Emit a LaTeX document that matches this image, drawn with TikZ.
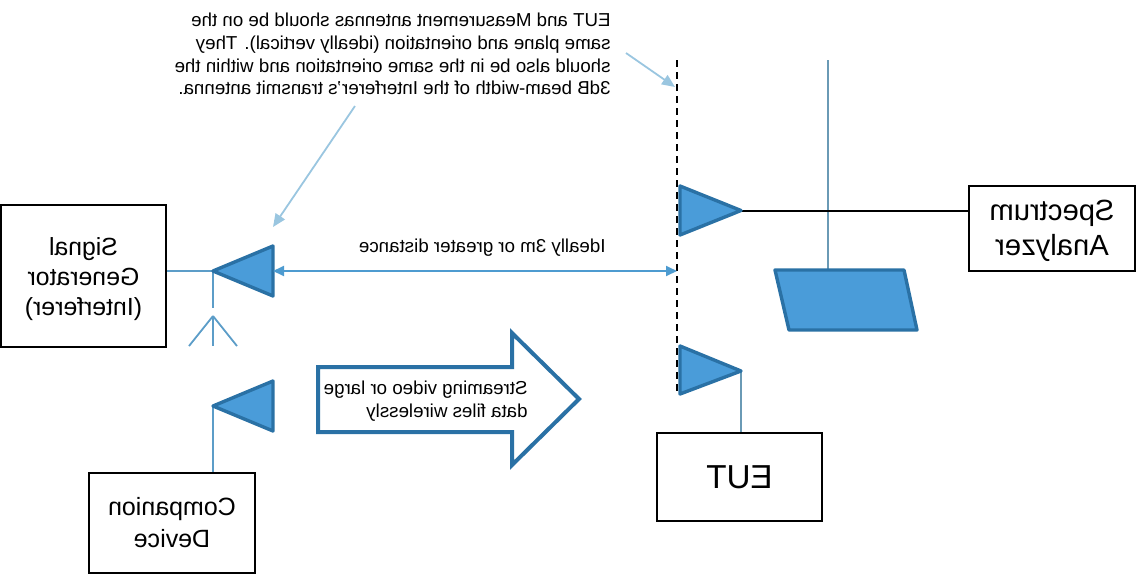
\documentclass[tikz,border=0pt]{standalone}
\usepackage{fontspec}
\usepackage{xcolor}
\setmainfont{Liberation Sans}
\usetikzlibrary{arrows.meta}
\definecolor{antfill}{HTML}{4A9CD9}
\definecolor{antline}{HTML}{2A71A5}
\definecolor{feedline}{HTML}{5C9DC8}
\definecolor{mastline}{HTML}{6A9AB5}
\definecolor{noteline}{HTML}{9AC6E0}
\definecolor{rangeline}{HTML}{4D9BD0}
\begin{document}
\begin{tikzpicture}[x=0.5pt,y=-0.5pt,
  mirrored/.style={xscale=-1,transform shape},
  devbox/.style={mirrored,draw=black,line width=1pt,align=center,inner sep=0pt},
  label/.style={mirrored,align=left,inner sep=0pt},
  antenna/.style={draw=antline,fill=antfill,line width=1.7pt,line join=round},
  feed/.style={draw=feedline,line width=0.9pt},
  note/.style={draw=noteline,line width=0.9pt,-{Triangle[length=6.5pt,width=5.5pt]}}]
\useasboundingbox (0,0) rectangle (1136,574);
\node[devbox,minimum width=82.5pt,minimum height=71pt,font=\fontsize{12.4}{15}\selectfont] (siggen) at (83.5,276) {\rule{0pt}{12pt}Signal\\Generator\\(Interferer)};
\node[devbox,minimum width=83pt,minimum height=50pt,font=\fontsize{12.5}{16}\selectfont] (companion) at (172,523) {Companion\\Device};
\node[devbox,minimum width=82.5pt,minimum height=44pt,font=\fontsize{16.6}{19}\selectfont] (eut) at (739.5,477) {EUT};
\node[devbox,minimum width=83pt,minimum height=42.5pt,font=\fontsize{14.6}{17.5}\selectfont] (analyzer) at (1052,228.5) {\rule{0pt}{12.6pt}Spectrum\\Analyzer};
\coordinate (txtip) at (213,271);
\coordinate (comptip) at (213,406);
\coordinate (rxtip) at (741,210.5);
\coordinate (euttip) at (741,371);
\coordinate (txface) at (273,271);
\coordinate (planetop) at (677,60);
\coordinate (planebot) at (677,392);
\coordinate (planemid) at (677,271);
\coordinate (masttop) at (828,60);
\coordinate (mastbot) at (828,270);
\coordinate (gndtop) at (213,316);
\draw[line width=1pt,dash pattern=on 3.5pt off 2.5pt] (planetop) -- (planebot);
\draw[feed] (siggen.west |- txtip) -- (txtip);
\draw[feed] (txtip) -- (213,308);
\draw[feed] (gndtop) -- (213,346);
\draw[feed] (gndtop) -- (189,346);
\draw[feed] (gndtop) -- (237,346);
\draw[feed] (comptip) -- (comptip |- companion.north);
\draw[draw=mastline,line width=0.9pt] (euttip) -- (euttip |- eut.north);
\draw[draw=mastline,line width=0.9pt] (masttop) -- (mastbot);
\draw[line width=1pt] (rxtip) -- (analyzer.east |- rxtip);
\draw[antenna] (txtip) -- (273,246) -- (273,296) -- cycle;
\draw[antenna] (comptip) -- (273,381) -- (273,431) -- cycle;
\draw[antenna] (rxtip) -- (680,186) -- (680,235) -- cycle;
\draw[antenna] (euttip) -- (680,346) -- (680,394) -- cycle;
\draw[antenna] (775,270) -- (904,270) -- (917,330) -- (789,330) -- cycle;
\draw[draw=antline,fill=white,line width=2pt,miter limit=10] (318,367) -- (512,367) -- (512,333) -- (579,399) -- (512,465) -- (512,432) -- (318,432) -- cycle;
\node[label,font=\fontsize{9.36}{11.3}\selectfont,anchor=north west] (notetext) at (611,13) {EUT and Measurement antennas should be on the\\same plane and orientation (ideally vertical). They\\should also be in the same orientation and within the\\3dB beam-width of the Interferer's transmit antenna.};
\node[label,font=\fontsize{9.36}{11}\selectfont,anchor=west] (rangetext) at (606,248) {Ideally 3m or greater distance};
\node[label,font=\fontsize{9.36}{11.5}\selectfont,anchor=west] (streamtext) at (528,401) {Streaming video or large\\data files wirelessly};
\coordinate (notea) at (626,53);
\coordinate (noteb) at (675,87);
\coordinate (notec) at (355,106);
\coordinate (noted) at (273,227);
\draw[note] (notea) -- (noteb);
\draw[note] (notec) -- (noted);
\draw[draw=rangeline,line width=0.9pt,{Triangle[length=5.5pt,width=5pt]}-{Triangle[length=5.5pt,width=5pt]}] (txface) -- (planemid);
\end{tikzpicture}
\end{document}
